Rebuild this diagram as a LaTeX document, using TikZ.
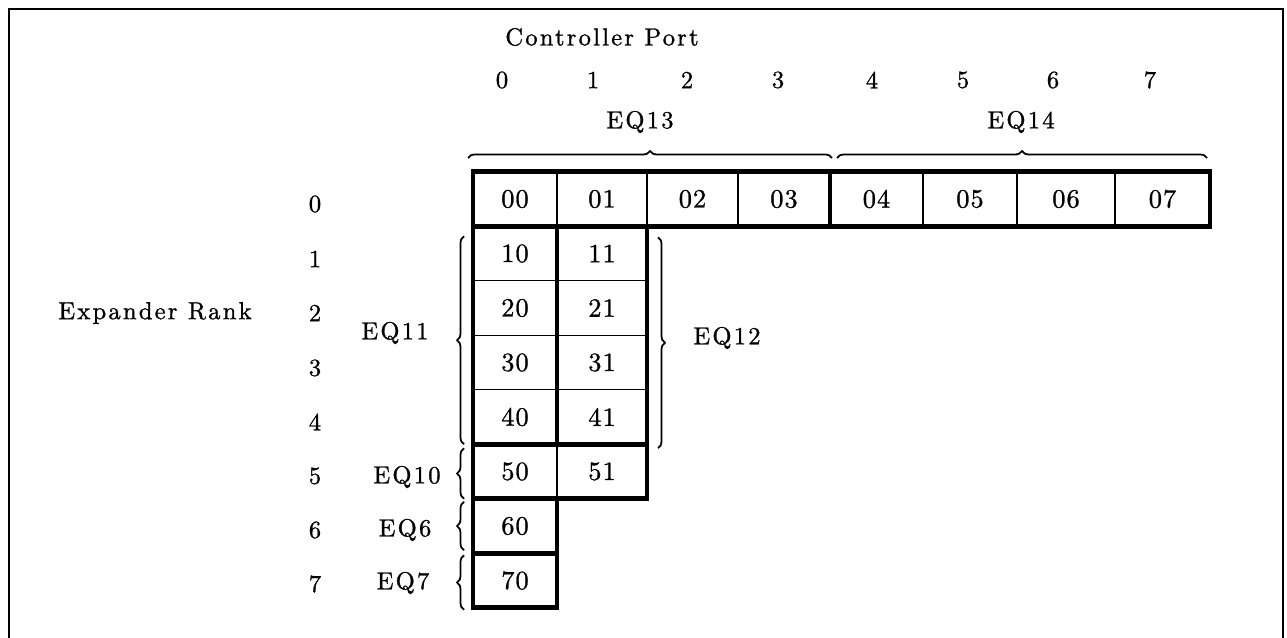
\documentclass[tikz,border=0pt]{standalone}
\usepackage{fontspec}
\usepackage{tikz}
\usetikzlibrary{positioning, decorations.pathreplacing}
\newfontfamily\spacedlm[LetterSpace=9, FakeBold=1]{lmroman10-regular.otf}
\newfontfamily\celllm[LetterSpace=4, FakeBold=1]{lmroman10-regular.otf}
\newcommand\cellfont{\celllm\fontsize{15}{17}\selectfont}
\newcommand\labelfont{\spacedlm\fontsize{14}{16}\selectfont}
\tikzstyle{cell} = [rectangle, draw=black, line width=0.8pt,
minimum height=1.09cm, inner sep=0pt, outer sep=0pt, font=\cellfont]
\tikzstyle{groupbox} = [draw=black, line width=2.6pt]
\tikzstyle{tag} = [inner sep=0pt, font=\labelfont]
\tikzstyle{bracket} = [decorate, decoration={brace, amplitude=0.14cm}, line width=1pt]
\tikzstyle{frame} = [draw=black, line width=1.2pt]

\begin{document}
\begin{tikzpicture}[x=0.02cm, y=-0.02cm]
    \useasboundingbox (0,0) rectangle (1287,638);
    \draw[frame] (9,638) -- (9,9) -- (1283,9) -- (1283,638);

    % rank 0: all eight ports
    \foreach \c/\cx/\w in {0/515/84, 1/602/90, 2/692.5/91, 3/784/92,
                           4/876.5/93, 5/970/94, 6/1066/98, 7/1162.5/95}
        \node (c0\c) [cell, minimum width=\w*0.02cm] at (\cx,199) {0\c};
    % ranks 1 to 5: ports 0 and 1
    \foreach \r/\cy in {1/253.5, 2/308, 3/362.5, 4/417, 5/471.5} {
        \node (c\r0) [cell, minimum width=84*0.02cm] at (515,\cy) {\r0};
        \node (c\r1) [cell, minimum width=90*0.02cm] at (602,\cy) {\r1};
    }
    % ranks 6 and 7: port 0 only
    \node (c60) [cell, minimum width=84*0.02cm] at (515,526) {60};
    \node (c70) [cell, minimum width=84*0.02cm] at (515,580.5) {70};

    % heavy outlines of the groups
    \draw[groupbox] (c00.north west) rectangle (c03.south east);
    \draw[groupbox] (c04.north west) rectangle (c07.south east);
    \draw[groupbox] (c10.north west) rectangle (c40.south east);
    \draw[groupbox] (c11.north west) rectangle (c41.south east);
    \draw[groupbox] (c50.north west) rectangle (c51.south east);
    \draw[groupbox] (c60.north west) rectangle (c60.south east);
    \draw[groupbox] (c70.north west) rectangle (c70.south east);

    % headings
    \node (ctrl) [tag] at (602,37) {Controller Port};
    \foreach \c/\cx in {0/502, 1/593, 2/687, 3/778, 4/872, 5/963, 6/1053, 7/1150}
        \node (p\c) [tag] at (\cx,80) {\c};
    \node (rank) [tag] at (155,313) {Expander Rank};
    \foreach \r/\cy in {0/204, 1/259, 2/313, 3/368, 4/422, 5/476, 6/530, 7/584}
        \node (r\r) [tag] at (315,\cy) {\r};

    % braces
    \draw[bracket] ([xshift=-0.1cm, yshift=0.275cm]c00.north west)
        -- ([xshift=0.04cm, yshift=0.275cm]c03.north east);
    \draw[bracket] ([xshift=0.14cm, yshift=0.275cm]c04.north west)
        -- ([xshift=-0.06cm, yshift=0.275cm]c07.north east);
    \draw[bracket] ([xshift=-0.18cm]c40.south west)
        -- ([xshift=-0.18cm, yshift=-0.2cm]c10.north west);
    \draw[bracket] ([xshift=0.22cm, yshift=-0.22cm]c11.north east)
        -- ([xshift=0.22cm, yshift=-0.08cm]c41.south east);
    \draw[bracket] ([xshift=-0.18cm]c50.south west)
        -- ([xshift=-0.18cm, yshift=-0.08cm]c50.north west);
    \draw[bracket] ([xshift=-0.18cm, yshift=0.06cm]c60.south west)
        -- ([xshift=-0.18cm, yshift=-0.06cm]c60.north west);
    \draw[bracket] ([xshift=-0.18cm, yshift=-0.04cm]c70.south west)
        -- ([xshift=-0.18cm, yshift=-0.04cm]c70.north west);

    \node (eq13) [tag] at (640,122) {EQ13};
    \node (eq14) [tag] at (1021,122) {EQ14};
    \node (eq11) [tag] at (395,333) {EQ11};
    \node (eq12) [tag] at (727,338) {EQ12};
    \node (eq10) [tag] at (407,477) {EQ10};
    \node (eq6)  [tag] at (405,530) {EQ6};
    \node (eq7)  [tag] at (403,583) {EQ7};
\end{tikzpicture}
\end{document}
